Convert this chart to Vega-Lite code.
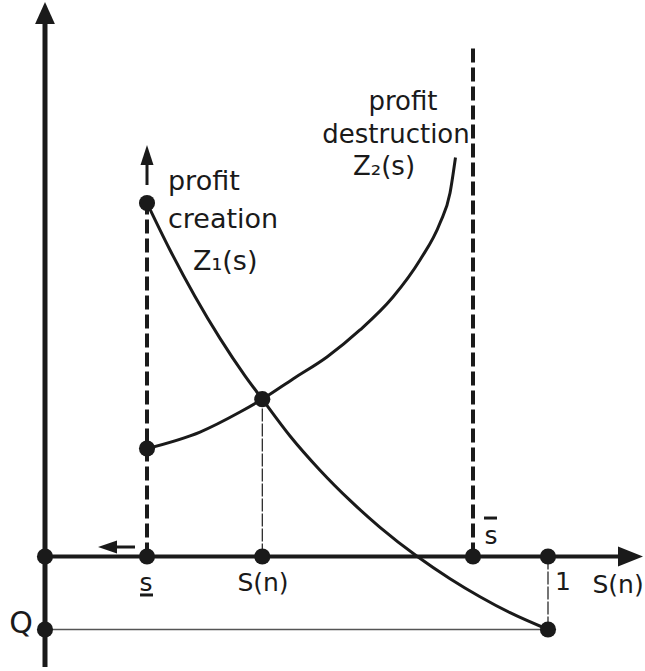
{
  "$schema": "https://vega.github.io/schema/vega-lite/v6.json",
  "width": 645,
  "height": 671,
  "padding": 0,
  "autosize": {"type": "fit", "contains": "padding"},
  "background": "white",
  "config": {"view": {"stroke": null}},
  "datasets": {
    "segments": [
      {"kind": "axisY", "x": 0, "y": -1.514, "x2": 0, "y2": 7.30},
      {"kind": "axisX", "x": 0, "y": 0, "x2": 1.145, "y2": 0},
      {"kind": "bound", "x": 0.2028, "y": 0, "x2": 0.2028, "y2": 4.842},
      {"kind": "bound", "x": 0.8509, "y": 0, "x2": 0.8509, "y2": 6.966},
      {"kind": "guide", "x": 0.432, "y": 0, "x2": 0.432, "y2": 2.155},
      {"kind": "guide", "x": 1, "y": 0, "x2": 1, "y2": -1},
      {"kind": "floor", "x": 0, "y": -1, "x2": 1, "y2": -1},
      {"kind": "shaft", "x": 0.2028, "y": 5.089, "x2": 0.2028, "y2": 5.37},
      {"kind": "shaft", "x": 0.140, "y": 0.130, "x2": 0.1789, "y2": 0.130},
      {"kind": "bar", "x": 0.1889, "y": -0.527, "x2": 0.2147, "y2": -0.527},
      {"kind": "bar", "x": 0.8728, "y": 0.527, "x2": 0.8986, "y2": 0.527}
    ],
    "curves": [
      {"curve": "Z1", "x": 0.2028, "y": 4.842},
      {"curve": "Z1", "x": 0.2485, "y": 4.199},
      {"curve": "Z1", "x": 0.2982, "y": 3.562},
      {"curve": "Z1", "x": 0.3479, "y": 2.988},
      {"curve": "Z1", "x": 0.3976, "y": 2.475},
      {"curve": "Z1", "x": 0.432, "y": 2.155},
      {"curve": "Z1", "x": 0.4871, "y": 1.651},
      {"curve": "Z1", "x": 0.5467, "y": 1.182},
      {"curve": "Z1", "x": 0.6064, "y": 0.768},
      {"curve": "Z1", "x": 0.6660, "y": 0.400},
      {"curve": "Z1", "x": 0.7396, "y": 0.003},
      {"curve": "Z1", "x": 0.8052, "y": -0.304},
      {"curve": "Z1", "x": 0.8648, "y": -0.551},
      {"curve": "Z1", "x": 0.9245, "y": -0.770},
      {"curve": "Z1", "x": 1.0, "y": -1.0},
      {"curve": "Z2", "x": 0.2028, "y": 1.479},
      {"curve": "Z2", "x": 0.3082, "y": 1.705},
      {"curve": "Z2", "x": 0.3877, "y": 1.979},
      {"curve": "Z2", "x": 0.432, "y": 2.155},
      {"curve": "Z2", "x": 0.4930, "y": 2.432},
      {"curve": "Z2", "x": 0.5606, "y": 2.733},
      {"curve": "Z2", "x": 0.6262, "y": 3.103},
      {"curve": "Z2", "x": 0.6918, "y": 3.555},
      {"curve": "Z2", "x": 0.7455, "y": 4.062},
      {"curve": "Z2", "x": 0.7853, "y": 4.568},
      {"curve": "Z2", "x": 0.8052, "y": 4.979},
      {"curve": "Z2", "x": 0.8161, "y": 5.466}
    ],
    "dots": [
      {"x": 0, "y": 0}, {"x": 0.2028, "y": 0}, {"x": 0.432, "y": 0},
      {"x": 0.8509, "y": 0}, {"x": 1, "y": 0}, {"x": 0, "y": -1},
      {"x": 1, "y": -1}, {"x": 0.2028, "y": 4.842}, {"x": 0.2028, "y": 1.479},
      {"x": 0.432, "y": 2.155}
    ],
    "heads": [
      {"dir": "up", "x": 0, "y": 7.4455},
      {"dir": "right", "x": 1.164, "y": 0},
      {"dir": "smallUp", "x": 0.2028, "y": 5.50},
      {"dir": "smallLeft", "x": 0.1243, "y": 0.130}
    ],
    "labelsLeft": [
      {"x": 0.2445, "y": 5.021, "text": "profit"},
      {"x": 0.2445, "y": 4.500, "text": "creation"},
      {"x": 0.2942, "y": 3.925, "text": "Z₁(s)"}
    ],
    "labelsCenter": [
      {"x": 0.7117, "y": 6.12, "text": "profit"},
      {"x": 0.6978, "y": 5.66, "text": "destruction"},
      {"x": 0.674, "y": 5.22, "text": "Z₂(s)"}
    ],
    "axisLabels": [
      {"x": 0.2008, "y": -0.363, "text": "s"},
      {"x": 0.4334, "y": -0.363, "text": "S(n)"},
      {"x": 0.8867, "y": 0.281, "text": "s"},
      {"x": 1.0298, "y": -0.349, "text": "1"},
      {"x": 1.1392, "y": -0.390, "text": "S(n)"}
    ],
    "qLabel": [
      {"x": -0.0477, "y": -0.925, "text": "Q"}
    ]
  },
  "encoding": {
    "x": {"field": "x", "type": "quantitative", "axis": null,
          "scale": {"domain": [-0.08946, 1.19284], "nice": false, "zero": false}},
    "y": {"field": "y", "type": "quantitative", "axis": null,
          "scale": {"domain": [-1.5685, 7.6233], "nice": false, "zero": false}}
  },
  "layer": [
    {
      "data": {"name": "segments"},
      "transform": [{"filter": "datum.kind === 'floor'"}],
      "mark": {"type": "rule", "stroke": "#555555", "strokeWidth": 1.5},
      "encoding": {"x2": {"field": "x2"}, "y2": {"field": "y2"}}
    },
    {
      "data": {"name": "segments"},
      "transform": [{"filter": "datum.kind === 'guide'"}],
      "mark": {"type": "rule", "stroke": "#1a1a1a", "strokeWidth": 1.2, "strokeDash": [13, 2]},
      "encoding": {"x2": {"field": "x2"}, "y2": {"field": "y2"}}
    },
    {
      "data": {"name": "segments"},
      "transform": [{"filter": "datum.kind === 'bound'"}],
      "mark": {"type": "rule", "stroke": "#1a1a1a", "strokeWidth": 4, "strokeDash": [14, 5]},
      "encoding": {"x2": {"field": "x2"}, "y2": {"field": "y2"}}
    },
    {
      "data": {"name": "segments"},
      "transform": [{"filter": "datum.kind === 'axisY'"}],
      "mark": {"type": "rule", "stroke": "#1a1a1a", "strokeWidth": 5},
      "encoding": {"x2": {"field": "x2"}, "y2": {"field": "y2"}}
    },
    {
      "data": {"name": "segments"},
      "transform": [{"filter": "datum.kind === 'axisX'"}],
      "mark": {"type": "rule", "stroke": "#1a1a1a", "strokeWidth": 4},
      "encoding": {"x2": {"field": "x2"}, "y2": {"field": "y2"}}
    },
    {
      "data": {"name": "segments"},
      "transform": [{"filter": "datum.kind === 'shaft' || datum.kind === 'bar'"}],
      "mark": {"type": "rule", "stroke": "#1a1a1a", "strokeWidth": 3},
      "encoding": {"x2": {"field": "x2"}, "y2": {"field": "y2"}}
    },
    {
      "data": {"name": "curves"},
      "mark": {"type": "line", "stroke": "#1a1a1a", "strokeWidth": 3, "interpolate": "monotone"},
      "encoding": {"detail": {"field": "curve"}, "order": {"field": "x", "type": "quantitative"}}
    },
    {
      "data": {"name": "dots"},
      "mark": {"type": "point", "shape": "circle", "filled": true, "color": "#1a1a1a", "opacity": 1, "size": 260}
    },
    {
      "data": {"name": "heads"},
      "transform": [{"filter": "datum.dir === 'up'"}],
      "mark": {"type": "point", "shape": "M0,-1L0.9,1L-0.9,1Z", "filled": true, "color": "#1a1a1a", "opacity": 1, "size": 484}
    },
    {
      "data": {"name": "heads"},
      "transform": [{"filter": "datum.dir === 'right'"}],
      "mark": {"type": "point", "shape": "M0,-1L0.8,1L-0.8,1Z", "angle": 90, "filled": true, "color": "#1a1a1a", "opacity": 1, "size": 625}
    },
    {
      "data": {"name": "heads"},
      "transform": [{"filter": "datum.dir === 'smallUp'"}],
      "mark": {"type": "point", "shape": "M0,-1L0.65,1L-0.65,1Z", "filled": true, "color": "#1a1a1a", "opacity": 1, "size": 400}
    },
    {
      "data": {"name": "heads"},
      "transform": [{"filter": "datum.dir === 'smallLeft'"}],
      "mark": {"type": "point", "shape": "M0,-1L0.68,1L-0.68,1Z", "angle": 270, "filled": true, "color": "#1a1a1a", "opacity": 1, "size": 361}
    },
    {
      "data": {"name": "labelsLeft"},
      "mark": {"type": "text", "font": "DejaVu Sans", "fontSize": 27, "align": "left", "baseline": "alphabetic", "color": "#1a1a1a"},
      "encoding": {"text": {"field": "text"}}
    },
    {
      "data": {"name": "labelsCenter"},
      "mark": {"type": "text", "font": "DejaVu Sans", "fontSize": 26, "align": "center", "baseline": "alphabetic", "color": "#1a1a1a"},
      "encoding": {"text": {"field": "text"}}
    },
    {
      "data": {"name": "axisLabels"},
      "mark": {"type": "text", "font": "DejaVu Sans", "fontSize": 25, "align": "center", "baseline": "middle", "color": "#1a1a1a"},
      "encoding": {"text": {"field": "text"}}
    },
    {
      "data": {"name": "qLabel"},
      "mark": {"type": "text", "font": "DejaVu Sans", "fontSize": 30, "align": "center", "baseline": "middle", "color": "#1a1a1a"},
      "encoding": {"text": {"field": "text"}}
    }
  ]
}
